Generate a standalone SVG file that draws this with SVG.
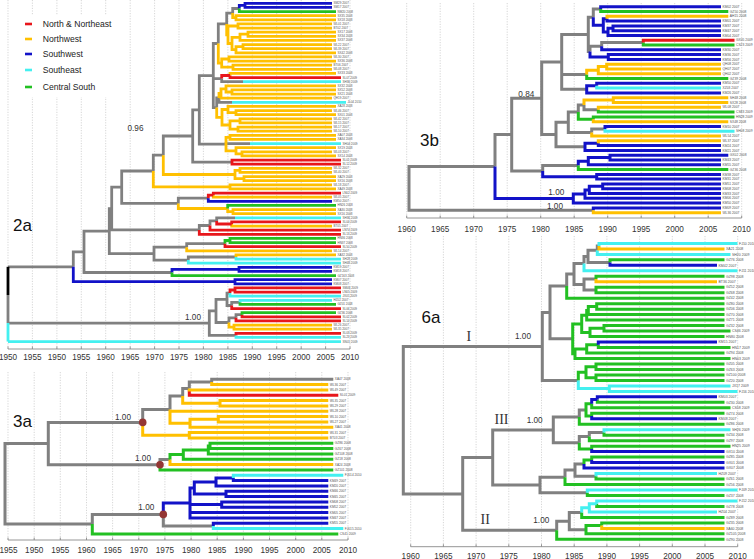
<svg xmlns="http://www.w3.org/2000/svg" width="754" height="559" viewBox="0 0 754 559">
<style>
.e{fill:none;stroke-linejoin:miter;stroke-linecap:butt}
.w2{stroke-width:2.8}.w3{stroke-width:3}
.kg{stroke:#808080}.kr{stroke:#e8161b}.ky{stroke:#ffc000}.kb{stroke:#1212c8}.kc{stroke:#44f0f0}.kn{stroke:#22c022}.kk{stroke:#000}
.grid{fill:none;stroke:#c4c4c4;stroke-width:0.7;stroke-dasharray:1.2 1.4}
.axl{fill:none;stroke:#8a8a8a;stroke-width:0.9}
.ax{font-family:"Liberation Sans",Arial,sans-serif;font-size:8.2px;fill:#333;text-anchor:middle}
.tp{font-family:"Liberation Sans",Arial,sans-serif;fill:#555}
.s2{font-size:3px}.s3{font-size:3.2px}.s4{font-size:3.3px}.s6{font-size:3.5px}
.pl{font-family:"Liberation Sans",Arial,sans-serif;font-size:17px;fill:#111}
.sp{font-family:"Liberation Sans",Arial,sans-serif;font-size:8.2px;fill:#333}
.rom{font-family:"Liberation Serif","Times New Roman",serif;font-size:14px;fill:#333}
.lg{font-family:"Liberation Sans",Arial,sans-serif;font-size:8.6px;fill:#222}
.dot{fill:#943634}
</style>

<g id="panel-2a">
<path class="grid" d="M8,0V349M32.4,0V349M56.9,0V349M81.3,0V349M105.7,0V349M130.2,0V349M154.6,0V349M179,0V349M203.4,0V349M227.9,0V349M252.3,0V349M276.7,0V349M301.2,0V349M325.6,0V349M350,0V349"/>
<g id="legend">
<rect x="20" y="15" width="96" height="82" fill="#fff"/>
<path class="e kr" stroke-width="2.6" d="M25,24H32"/>
<path class="e ky" stroke-width="2.6" d="M25,39H32"/>
<path class="e kb" stroke-width="2.6" d="M25,54H32"/>
<path class="e kc" stroke-width="2.6" d="M25,70H32"/>
<path class="e kn" stroke-width="2.6" d="M25,87H32"/>
<text class="lg" x="42.7" y="27">North &amp; Northeast</text>
<text class="lg" x="42.7" y="42">Northwest</text>
<text class="lg" x="42.7" y="57">Southwest</text>
<text class="lg" x="42.7" y="73">Southeast</text>
<text class="lg" x="42.7" y="90">Central South</text>
</g>
<g id="axis-2a">
<path class="axl" d="M8,349H350M8,346.5V349M32.4,346.5V349M56.9,346.5V349M81.3,346.5V349M105.7,346.5V349M130.2,346.5V349M154.6,346.5V349M179,346.5V349M203.4,346.5V349M227.9,346.5V349M252.3,346.5V349M276.7,346.5V349M301.2,346.5V349M325.6,346.5V349M350,346.5V349"/>
<text class="ax" x="8" y="359.5">1950</text><text class="ax" x="32.4" y="359.5">1955</text><text class="ax" x="56.9" y="359.5">1950</text><text class="ax" x="81.3" y="359.5">1955</text><text class="ax" x="105.7" y="359.5">1960</text><text class="ax" x="130.2" y="359.5">1965</text><text class="ax" x="154.6" y="359.5">1970</text><text class="ax" x="179" y="359.5">1975</text><text class="ax" x="203.4" y="359.5">1980</text><text class="ax" x="227.9" y="359.5">1985</text><text class="ax" x="252.3" y="359.5">1990</text><text class="ax" x="276.7" y="359.5">1995</text><text class="ax" x="301.2" y="359.5">2000</text><text class="ax" x="325.6" y="359.5">2005</text><text class="ax" x="350" y="359.5">2010</text>
</g>
<g id="edges-2a">
<path class="e w2 kg" d="M232.7,13.1V8.5H239.3M226.7,23.9V13.1H232.7M218.3,43.5V23.9H226.7M221.7,78.6V81.7H243M219,97.9V102.3H232M216.7,107.6V97.9H219M213.3,75.6V43.5H218.3M213.3,75.6V78.6H221.7M213.3,75.6V107.6H216.7M226,144.1V143.6H250M199.3,109.8V75.6H213.3M199.3,109.8V144.1H226M192.7,136V109.8H199.3M192.7,136V162.1H232M163.3,155.2V136H192.7M153.3,171V155.2H163.3M178.3,203.4V198.2H208.3M121.7,187.2V171H153.3M121.7,187.2V203.4H178.3M216.7,220.9V217.8H235M210,225.5V220.9H216.7M199.3,229.9V225.5H210M111.7,208.6V187.2H121.7M111.7,208.6V229.9H199.3M186.7,247.2V243.6H225M188.3,260.1V257H236M154,253.6V247.2H186.7M154,253.6V260.1H188.3M109.3,231.1V208.6H111.7M109.3,231.1V253.6H154M84,251.8V231.1H109.3M84,251.8V272.5H172M73.3,266.8V251.8H84M231.7,305.5V302.4H240M227,299.3V293.1H230M227,299.3V305.5H231.7M236,317.8V314.7H242M229,322.5V317.8H236M216,310.9V299.3H227M216,310.9V322.5H229M209.3,323.1V310.9H216M209.3,323.1V335.4H236M8,295V323.1M8,266.8H73.3M8,323.1H209.3"/>
<path class="e w2 ky" d="M236,17.7V15.7H336M236,17.7V19.8H336M232.7,13.1V17.7H236M238,26V23.9H332M238,26V28.1H332M248,34.2V32.2H336M248,34.2V36.3H336M240,37.3V34.2H248M240,37.3V40.4H336M243,46.6V44.6H332M243,46.6V48.7H332M236,49.7V46.6H243M236,49.7V52.8H336M232,43.5V37.3H240M232,43.5V49.7H236M228,34.8V26H238M228,34.8V43.5H232M226.7,23.9V34.8H228M229,59V56.9H332M229,59V61.1H336M233,67.2V65.2H332M233,67.2V69.3H332M221.7,63.1V59H229M221.7,63.1V67.2H233M218.3,43.5V63.1H221.7M230,75.5V73.4H336M232,92V89.9H336M232,92V94.1H336M226,88.9V85.8H336M226,88.9V92H232M221,93.5V88.9H226M221,93.5V98.2H332M219,97.9V93.5H221M236,112.6V110.6H332M236,112.6V114.7H336M228,109.5V106.4H336M228,109.5V112.6H236M240,120.9V118.8H332M240,120.9V122.9H332M238,129.1V127.1H332M238,129.1V131.2H332M230,125V120.9H240M230,125V129.1H238M222,117.3V109.5H228M222,117.3V125H230M216.7,107.6V117.3H222M230,137.4V135.3H336M230,137.4V139.4H336M242,153.9V151.8H332M242,153.9V155.9H336M236,150.8V147.7H336M236,150.8V153.9H242M226,144.1V137.4H230M226,144.1V150.8H236M240,170.4V168.3H332M240,170.4V172.4H332M244,178.6V176.6H336M244,178.6V180.7H336M235,174.5V170.4H240M235,174.5V178.6H244M163.3,155.2V174.5H235M230,186.9V184.8H332M230,186.9V188.9H336M153.3,171V186.9H230M213.3,195.1V197.2H332M233,211.6V209.6H336M233,211.6V213.7H336M227.7,208.5V211.6H233M178.3,203.4V208.5H227.7M231.7,224V226.1H332M186.7,247.2V250.8H332M236,257V254.9H336M234,327.1V325.1H332M234,327.1V329.2H332M229,322.5V327.1H234"/>
<path class="e w2 kr" d="M230,75.5V77.6H341M221.7,78.6V75.5H230M232,162.1V160.1H341M232,162.1V164.2H341M213.3,195.1V193.1H341M208.3,198.2V195.1H213.3M231.7,224V221.9H341M216.7,220.9V224H231.7M210,225.5V230.2H341M199.3,229.9V234.3H341M225,243.6V246.7H341M235,290V287.9H341M235,290V292.1H341M230,293.1V290H235M231.7,305.5V308.6H341M242,314.7V316.8H341M236,317.8V320.9H341M236,335.4V333.3H341"/>
<path class="e w2 kb" d="M245,5.4V3.3H332M245,5.4V7.4H332M239.3,8.5V5.4H245M208.3,198.2V201.3H332M239,269.4V267.3H332M239,269.4V271.4H332M172,272.5V269.4H239M235,281.7V279.7H332M235,281.7V283.8H332M73.3,266.8V281.7H235"/>
<path class="e w2 kc" d="M243,81.7H341M232,102.3H346M250,143.6H341M235,217.8H341M236,257V259.1H341M188.3,260.1V263.2H341M230,293.1V296.2H341M240,302.4V300.3H332M236,335.4V337.4H341M8,323.1V341.6M8,341.6H341"/>
<path class="e w2 kn" d="M239.3,8.5V11.6H336M227.7,208.5V205.4H336M230,240.5V238.4H336M230,240.5V242.6H336M225,243.6V240.5H230M172,272.5V275.6H336M240,302.4V304.4H336M242,314.7V312.7H336"/>
<path class="e w2 kk" d="M8,266.8V295"/>
</g>
<g id="tips-2a" class="tp s2">
<text x="333.5" y="4.3">SM29 2007</text><text x="333.5" y="8.4">SM17 2007</text><text x="337.5" y="12.6">NM20 2008</text><text x="337.5" y="16.7">SX35 2008</text><text x="337.5" y="20.8">SX18 2008</text><text x="333.5" y="24.9">WL01 2007</text><text x="333.5" y="29.1">BT02 2007</text><text x="337.5" y="33.2">SX17 2008</text><text x="337.5" y="37.3">SX34 2008</text><text x="337.5" y="41.4">SX37 2008</text><text x="333.5" y="45.6">WL22 2007</text><text x="333.5" y="49.7">WL39 2007</text><text x="337.5" y="53.8">SX42 2008</text><text x="333.5" y="57.9">WL30 2007</text><text x="337.5" y="62.1">SX36 2008</text><text x="333.5" y="66.2">BT06 2007</text><text x="333.5" y="70.3">WL08 2007</text><text x="337.5" y="74.4">SX33 2008</text><text x="342.5" y="78.6">SL07 2009</text><text x="342.5" y="82.7">SH36 2009</text><text x="337.5" y="86.8">SX32 2008</text><text x="337.5" y="90.9">SX52 2008</text><text x="337.5" y="95.1">SX21 2008</text><text x="333.5" y="99.2">QH19 2007</text><text x="347.5" y="103.3">JL04 2010</text><text x="337.5" y="107.4">XA28 2008</text><text x="333.5" y="111.6">WL46 2007</text><text x="337.5" y="115.7">SX01 2008</text><text x="333.5" y="119.8">WL42 2007</text><text x="333.5" y="123.9">WL15 2007</text><text x="333.5" y="128.1">WL17 2007</text><text x="333.5" y="132.2">WL10 2007</text><text x="337.5" y="136.3">XA07 2008</text><text x="337.5" y="140.4">XA34 2008</text><text x="342.5" y="144.6">SH04 2009</text><text x="337.5" y="148.7">SX19 2008</text><text x="333.5" y="152.8">WL03 2007</text><text x="337.5" y="156.9">SX14 2008</text><text x="342.5" y="161.1">SL01 2009</text><text x="342.5" y="165.2">SL12 2009</text><text x="333.5" y="169.3">WL32 2007</text><text x="333.5" y="173.4">WL40 2007</text><text x="337.5" y="177.6">XA29 2008</text><text x="337.5" y="181.7">SX16 2008</text><text x="333.5" y="185.8">WL18 2007</text><text x="337.5" y="189.9">XA49 2008</text><text x="342.5" y="194.1">LN02 2009</text><text x="333.5" y="198.2">WL05 2007</text><text x="333.5" y="202.3">KM50 2007</text><text x="337.5" y="206.4">HN26 2008</text><text x="337.5" y="210.6">XA30 2008</text><text x="337.5" y="214.7">SX16 2008</text><text x="342.5" y="218.8">SH36 2009</text><text x="342.5" y="222.9">SL04 2009</text><text x="333.5" y="227.1">BT05 2007</text><text x="342.5" y="231.2">LN74 2009</text><text x="342.5" y="235.3">SL13 2009</text><text x="337.5" y="239.4">HN36 2008</text><text x="337.5" y="243.6">HN37 2008</text><text x="342.5" y="247.7">SL50 2009</text><text x="333.5" y="251.8">WL14 2007</text><text x="337.5" y="255.9">XA32 2008</text><text x="342.5" y="260.1">SH28 2009</text><text x="342.5" y="264.2">SH48 2009</text><text x="333.5" y="268.3">KM19 2007</text><text x="333.5" y="272.4">KM18 2007</text><text x="337.5" y="276.6">GZ163 2008</text><text x="333.5" y="280.7">KM07 2007</text><text x="333.5" y="284.8">KM08 2007</text><text x="342.5" y="288.9">SM46 2009</text><text x="342.5" y="293.1">LN05 2009</text><text x="342.5" y="297.2">JX05 2009</text><text x="333.5" y="301.3">HZ02 2007</text><text x="337.5" y="305.4">GZ01 2008</text><text x="342.5" y="309.6">SL06 2009</text><text x="337.5" y="313.7">GZ36 2008</text><text x="342.5" y="317.8">SL02 2009</text><text x="342.5" y="321.9">SL14 2009</text><text x="333.5" y="326.1">WL26 2007</text><text x="333.5" y="330.2">WL35 2007</text><text x="342.5" y="334.3">SL03 2009</text><text x="342.5" y="338.4">SL23 2009</text><text x="342.5" y="342.6">SN01 2009</text>
</g>
<g id="labels-2a">
<text class="pl" x="13" y="230.5">2a</text>
<text class="sp" x="127.5" y="130.5">0.96</text>
<text class="sp" x="185" y="319.5">1.00</text>
</g>
</g>

<g id="panel-3b">
<path class="grid" d="M406.7,3V218M440.2,3V218M473.7,3V218M507.2,3V218M540.7,3V218M574.2,3V218M607.7,3V218M641.2,3V218M674.7,3V218M708.2,3V218M741.7,3V218"/>
<g id="axis-3b">
<path class="axl" d="M406.7,218H741.7M406.7,215.5V218M440.2,215.5V218M473.7,215.5V218M507.2,215.5V218M540.7,215.5V218M574.2,215.5V218M607.7,215.5V218M641.2,215.5V218M674.7,215.5V218M708.2,215.5V218M741.7,215.5V218"/>
<text class="ax" x="406.7" y="231.5">1960</text><text class="ax" x="440.2" y="231.5">1965</text><text class="ax" x="473.7" y="231.5">1970</text><text class="ax" x="507.2" y="231.5">1975</text><text class="ax" x="540.7" y="231.5">1980</text><text class="ax" x="574.2" y="231.5">1985</text><text class="ax" x="607.7" y="231.5">1990</text><text class="ax" x="641.2" y="231.5">1995</text><text class="ax" x="674.7" y="231.5">2000</text><text class="ax" x="708.2" y="231.5">2005</text><text class="ax" x="741.7" y="231.5">2010</text>
</g>
<g id="edges-3b">
<path class="e w3 kg" d="M593.3,17.2V9.1H600.7M601.7,46.2V42.6H643.3M590,51.6V46.2H601.7M588.3,34.4V17.2H593.3M588.3,34.4V51.6H590M561.7,61.9V34.4H588.3M561.7,61.9V74.4H586.7M561.7,61.9V89.3H586.7M584,104.9V109.7H598.3M578.3,112.1V104.9H584M591.7,132.4V128.9H605M568.3,122.3V112.1H578.3M568.3,122.3V132.4H591.7M556,134.5V122.3H568.3M556,134.5V146.8H585M541.7,98.2V61.9H561.7M541.7,98.2V134.5H556M542.7,171.1V165.4H578.3M511.7,134.6V98.2H541.7M511.7,134.6V171.1H542.7M495,166.6V134.6H511.7M409,188.5V166.6H495M409,188.5V210.3H593.3"/>
<path class="e w3 kb" d="M600.7,9.1V6.7H721M607,18.7V21.1H721M613,28.3V25.9H721M613,28.3V30.7H721M608,31.9V28.3H613M608,31.9V35.4H721M603.3,25.3V18.7H607M603.3,25.3V31.9H608M593.3,17.2V25.3H603.3M601.7,46.2V49.8H721M608.3,57V54.6H721M608.3,57V59.4H721M590,51.6V57H608.3M596.7,85.7V83.3H721M586.7,89.3V85.7H596.7M586.7,89.3V92.9H721M605,128.9V126.5H721M598.3,143.2V145.6H721M585,146.8V143.2H598.3M585,146.8V150.4H721M610,157.6V155.2H728.3M610,157.6V160H721M588.3,161.2V157.6H610M588.3,161.2V164.8H721M578.3,165.4V161.2H588.3M596.7,176.8V174.4H721M596.7,176.8V179.1H721M542.7,171.1V176.8H596.7M602.7,186.3V183.9H721M602.7,186.3V188.7H721M589.3,189.9V186.3H602.7M589.3,189.9V193.5H721M585,194.1V189.9H589.3M585,194.1V198.3H721M573.3,198.6V194.1H585M573.3,198.6V203.1H721M495,166.6V198.6H573.3M593.3,210.3V207.9H721"/>
<path class="e w3 kn" d="M600.7,9.1V11.5H728.3M643.3,42.6V45H734.5M586.7,74.4V78.6H728.3M598.3,109.7V112.1H734.5M593.3,119.3V116.9H734.5M578.3,112.1V119.3H593.3M578.3,165.4V169.6H728.3"/>
<path class="e w3 ky" d="M607,18.7V16.3H728.3M606.7,66.6V64.2H721M606.7,66.6V69H721M598.3,70.2V66.6H606.7M598.3,70.2V73.8H721M586.7,74.4V70.2H598.3M613.3,100.1V97.7H728.3M613.3,100.1V102.5H728.3M584,104.9V100.1H613.3M598.3,109.7V107.3H721M593.3,119.3V121.7H728.3M591.7,132.4V136H721M598.3,143.2V140.8H721M593.3,210.3V212.7H721"/>
<path class="e w3 kr" d="M643.3,42.6V40.2H734.5"/>
<path class="e w3 kc" d="M596.7,85.7V88.1H721M605,128.9V131.2H734.5"/>
</g>
<g id="tips-3b" class="tp s4">
<text x="722.5" y="7.8">KM02 2007</text><text x="729.8" y="12.6">GZ50 2008</text><text x="729.8" y="17.4">AH15 2008</text><text x="722.5" y="22.2">KM01 2007</text><text x="722.5" y="27">KM37 2007</text><text x="722.5" y="31.8">KM47 2007</text><text x="722.5" y="36.5">KM04 2007</text><text x="736" y="41.3">GX05 2009</text><text x="736" y="46.1">CS23 2009</text><text x="722.5" y="50.9">KM30 2007</text><text x="722.5" y="55.7">KM36 2007</text><text x="722.5" y="60.5">KM56 2007</text><text x="722.5" y="65.3">QH08 2007</text><text x="722.5" y="70.1">QH07 2007</text><text x="722.5" y="74.9">QH02 2007</text><text x="729.8" y="79.7">GZ39 2008</text><text x="722.5" y="84.4">KM50 2007</text><text x="722.5" y="89.2">XZ03 2007</text><text x="722.5" y="94">KM26 2007</text><text x="729.8" y="98.8">SH48 2008</text><text x="729.8" y="103.6">SX28 2008</text><text x="722.5" y="108.4">WL08 2007</text><text x="736" y="113.2">CS83 2009</text><text x="736" y="118">HN28 2009</text><text x="729.8" y="122.8">SX48 2008</text><text x="722.5" y="127.6">KM10 2007</text><text x="736" y="132.3">SH08 2009</text><text x="722.5" y="137.1">WL54 2007</text><text x="722.5" y="141.9">WL37 2007</text><text x="722.5" y="146.7">KM24 2007</text><text x="722.5" y="151.5">KM21 2007</text><text x="729.8" y="156.3">GX02 2008</text><text x="722.5" y="161.1">KM43 2007</text><text x="722.5" y="165.9">KM55 2007</text><text x="729.8" y="170.7">GZ36 2008</text><text x="722.5" y="175.5">KM38 2007</text><text x="722.5" y="180.2">KM31 2007</text><text x="722.5" y="185">KM51 2007</text><text x="722.5" y="189.8">KM08 2007</text><text x="722.5" y="194.6">KM33 2007</text><text x="722.5" y="199.4">KM06 2007</text><text x="722.5" y="204.2">KM50 2007</text><text x="722.5" y="209">KM09 2007</text><text x="722.5" y="213.8">WL36 2007</text>
</g>
<g id="labels-3b">
<text class="pl" x="420" y="145.5">3b</text>
<text class="sp" x="518.3" y="96.7">0.84</text>
<text class="sp" x="548.3" y="195">1.00</text>
<text class="sp" x="547" y="209.3">1.00</text>
</g>
</g>

<g id="panel-6a">
<path class="grid" d="M410.7,236V546.7M443.4,236V546.7M476.1,236V546.7M508.8,236V546.7M541.5,236V546.7M574.2,236V546.7M606.9,236V546.7M639.6,236V546.7M672.3,236V546.7M705,236V546.7M737.7,236V546.7"/>
<g id="axis-6a">
<path class="axl" d="M410.7,546.7H737.7M410.7,544.2V546.7M443.4,544.2V546.7M476.1,544.2V546.7M508.8,544.2V546.7M541.5,544.2V546.7M574.2,544.2V546.7M606.9,544.2V546.7M639.6,544.2V546.7M672.3,544.2V546.7M705,544.2V546.7M737.7,544.2V546.7"/>
<text class="ax" x="410.7" y="558.5">1960</text><text class="ax" x="443.4" y="558.5">1965</text><text class="ax" x="476.1" y="558.5">1970</text><text class="ax" x="508.8" y="558.5">1975</text><text class="ax" x="541.5" y="558.5">1980</text><text class="ax" x="574.2" y="558.5">1985</text><text class="ax" x="606.9" y="558.5">1990</text><text class="ax" x="639.6" y="558.5">1995</text><text class="ax" x="672.3" y="558.5">2000</text><text class="ax" x="705" y="558.5">2005</text><text class="ax" x="737.7" y="558.5">2010</text>
</g>
<g id="edges-6a">
<path class="e w3 kg" d="M597.3,250.3V246.1H599M588,256.4V250.3H597.3M588,256.4V262.6H610M584,263.6V256.4H588M584,284.5V279H596M584,284.5V290H596M574,274.1V263.6H584M574,274.1V284.5H584M566.7,286.1V274.1H574M550,312.5V286.1H566.7M550,312.5V338.8H572.7M542.3,346.4V312.5H550M542.3,346.4V380.4H578.3M579.3,417.1V409.9H586M589.3,436.6V432.5H604M579.3,442.7V436.6H589.3M553.3,429.9V417.1H579.3M553.3,429.9V442.7H579.3M575,470.1V464H584M575,470.1V476.3H596M565,477.3V470.1H575M540,485V477.3H565M540,485V492.7H587.3M492.7,457.5V429.9H553.3M492.7,457.5V485H540M569.3,521.2V512.6H581.7M569.3,521.2V529.7H586M556.7,530.3V521.2H569.3M462.7,493.9V457.5H492.7M462.7,493.9V530.3H556.7M403.3,420.2V346.4H542.3M403.3,420.2V493.9H462.7"/>
<path class="e w3 kn" d="M610,262.6V259.8H724.5M596,279V276.3H724.5M596,290V287.2H724.5M596,290V292.7H724.5M566.7,286.1V298.2H724.5M596.7,306.4V303.7H724.5M596.7,306.4V309.2H724.5M588.3,310.5V306.4H596.7M588.3,310.5V314.6H724.5M586.7,315.3V310.5H588.3M586.7,315.3V320.1H724.5M604,328.3V325.6H724.5M604,328.3V331.1H730.5M590,332.5V328.3H604M590,332.5V336.6H724.5M581.7,323.9V315.3H586.7M581.7,323.9V332.5H590M598.3,344.8V347.5H730.5M586.7,348.9V344.8H598.3M586.7,348.9V353H724.5M575,353.7V348.9H586.7M575,353.7V358.5H730.5M572.7,338.8V323.9H581.7M572.7,338.8V353.7H575M596,366.7V364H724.5M596,366.7V369.4H724.5M596,377.7V374.9H724.5M596,377.7V380.4H724.5M586,372.2V366.7H596M586,372.2V377.7H596M578.3,380.4V372.2H586M597.3,399.6V402.3H724.5M591.7,403.7V407.8H730.5M591.7,416V413.3H724.5M586,409.9V403.7H591.7M586,409.9V416H591.7M579.3,417.1V424.2H724.5M604,432.5V435.2H724.5M589.3,436.6V440.7H724.5M591.7,448.9V446.2H730.5M579.3,442.7V448.9H591.7M591.7,459.9V457.1H724.5M584,464V459.9H591.7M596,476.3V479H724.5M565,477.3V484.5H724.5M587.3,492.7V495.5H724.5M596.7,503.7V506.4H724.5M581.7,512.6V517.4H724.5M601.7,525.6V522.9H724.5M586,529.7V525.6H601.7M586,529.7V533.8H724.5M556.7,530.3V539.3H724.5"/>
<path class="e w3 kc" d="M599,246.1V243.4H737.5M597.3,250.3V254.4H730.5M584,263.6V270.8H737.5M609.3,388.6V385.9H730.5M609.3,388.6V391.4H737.5M578.3,380.4V388.6H609.3M604,432.5V429.7H730.5M596,476.3V473.6H717M587.3,492.7V490H737.5M596.7,503.7V501H737.5M589.3,507.8V503.7H596.7M589.3,507.8V511.9H717M581.7,512.6V507.8H589.3"/>
<path class="e w3 ky" d="M599,246.1V248.9H724.5M596,279V281.8H717M601.7,525.6V528.4H724.5"/>
<path class="e w3 kb" d="M610,262.6V265.3H717M598.3,344.8V342H717M597.3,399.6V396.8H717M591.7,403.7V399.6H597.3M591.7,416V418.8H717M591.7,448.9V451.6H724.5M591.7,459.9V462.6H724.5M584,464V468.1H724.5"/>
</g>
<g id="tips-6a" class="tp s6">
<text x="739" y="244.6">FJ10 2010</text><text x="726" y="250.1">XA21 2008</text><text x="732" y="255.6">SH20 2009</text><text x="726" y="261">GZ76 2008</text><text x="718.5" y="266.5">KM42 2007</text><text x="739" y="272">FJ11 2010</text><text x="726" y="277.5">GZ98 2008</text><text x="718.5" y="283">BT36 2007</text><text x="726" y="288.4">GZ52 2008</text><text x="726" y="293.9">GZ68 2008</text><text x="726" y="299.4">GZ42 2008</text><text x="726" y="304.9">GZ80 2008</text><text x="726" y="310.4">GZ06 2008</text><text x="726" y="315.8">GZ70 2008</text><text x="726" y="321.3">GZ71 2008</text><text x="726" y="326.8">GZ32 2008</text><text x="732" y="332.3">CS46 2009</text><text x="726" y="337.8">HN80 2008</text><text x="718.5" y="343.2">KM15 2007</text><text x="732" y="348.7">HN17 2009</text><text x="726" y="354.2">GZ94 2008</text><text x="732" y="359.7">HN03 2009</text><text x="726" y="365.2">GZ05 2008</text><text x="726" y="370.6">GZ63 2008</text><text x="726" y="376.1">GZ100 2008</text><text x="726" y="381.6">GZ20 2008</text><text x="732" y="387.1">JX17 2009</text><text x="739" y="392.6">FJ16 2010</text><text x="718.5" y="398">KM03 2007</text><text x="726" y="403.5">GZ30 2008</text><text x="732" y="409">CS58 2009</text><text x="726" y="414.5">GZ74 2008</text><text x="718.5" y="420">KM48 2007</text><text x="726" y="425.4">GZ86 2008</text><text x="732" y="430.9">SH26 2009</text><text x="726" y="436.4">GZ34 2008</text><text x="726" y="441.9">GZ97 2008</text><text x="732" y="447.4">HN25 2009</text><text x="726" y="452.8">GX10 2008</text><text x="726" y="458.3">GZ85 2008</text><text x="726" y="463.8">GX01 2008</text><text x="726" y="469.3">GX07 2008</text><text x="718.5" y="474.8">HZ09 2007</text><text x="726" y="480.2">GZ61 2008</text><text x="726" y="485.7">GZ56 2008</text><text x="739" y="491.2">FJ09 2010</text><text x="726" y="496.7">GZ37 2008</text><text x="739" y="502.2">FJ12 2010</text><text x="726" y="507.6">GZ78 2008</text><text x="718.5" y="513.1">HZ04 2007</text><text x="726" y="518.6">GZ89 2008</text><text x="726" y="524.1">GZ35 2008</text><text x="726" y="529.6">XA60 2008</text><text x="726" y="535">GZ105 2008</text><text x="726" y="540.5">GZ90 2008</text>
</g>
<g id="labels-6a">
<text class="pl" x="421.5" y="322.5">6a</text>
<text class="rom" x="466.5" y="340.5">I</text>
<text class="rom" x="494.5" y="424">III</text>
<text class="rom" x="480.5" y="524">II</text>
<text class="sp" x="515" y="338.7">1.00</text>
<text class="sp" x="526.7" y="423.3">1.00</text>
<text class="sp" x="533.3" y="523.3">1.00</text>
</g>
</g>

<g id="panel-3a">
<path class="grid" d="M8,372V540M34.2,372V540M60.3,372V540M86.5,372V540M112.6,372V540M138.8,372V540M164.9,372V540M191.1,372V540M217.2,372V540M243.4,372V540M269.5,372V540M295.7,372V540M321.8,372V540M348,372V540"/>
<g id="axis-3a">
<path class="axl" d="M8,540H348M8,537.5V540M34.2,537.5V540M60.3,537.5V540M86.5,537.5V540M112.6,537.5V540M138.8,537.5V540M164.9,537.5V540M191.1,537.5V540M217.2,537.5V540M243.4,537.5V540M269.5,537.5V540M295.7,537.5V540M321.8,537.5V540M348,537.5V540"/>
<text class="ax" x="8.5" y="553">1955</text><text class="ax" x="34.2" y="553">1950</text><text class="ax" x="60.3" y="553">1955</text><text class="ax" x="86.5" y="553">1960</text><text class="ax" x="112.6" y="553">1965</text><text class="ax" x="138.8" y="553">1970</text><text class="ax" x="164.9" y="553">1975</text><text class="ax" x="191.1" y="553">1980</text><text class="ax" x="217.2" y="553">1985</text><text class="ax" x="243.4" y="553">1990</text><text class="ax" x="269.5" y="553">1995</text><text class="ax" x="295.7" y="553">2000</text><text class="ax" x="321.8" y="553">2005</text><text class="ax" x="348" y="553">2010</text>
</g>
<g id="edges-3a">
<path class="e w3 kg" d="M211.7,382V379.3H333.3M189.3,388.6V382H211.7M182.7,396V388.6H189.3M170,409.6V396H182.7M142.7,422.4V409.6H170M160,464.8V459.6H170M48.3,443.6V422.4H142.7M48.3,443.6V464.8H160M163.3,514.4V525.9H213.3M92.3,524.1V514.4H163.3M5,483.9V443.6H48.3M5,483.9V524.1H92.3"/>
<path class="e w3 kr" d="M189.3,390V395.3H338.3"/>
<path class="e w3 ky" d="M211.7,382V384.6H328.3M189.3,388.6V390H328.3M220,403.3V400.6H328.3M220,403.3V406H328.3M182.7,396V403.3H220M218.3,419.3V416.6H328.3M218.3,419.3V421.9H328.3M190,423.3V419.3H218.3M190,423.3V427.3H333.3M170,409.6V411.3H328.3M170,409.6V423.3H190M189.3,435.3V432.6H328.3M189.3,435.3V437.9H328.3M142.7,422.4V435.3H189.3M170,459.6V464.6H333.3"/>
<path class="e w3 kn" d="M210,445.9V443.3H333.3M210,445.9V448.6H333.3M208.3,449.9V445.9H210M208.3,449.9V453.9H333.3M183.3,454.6V449.9H208.3M183.3,454.6V459.3H333.3M170,459.6V454.6H183.3M160,464.8V469.9H333.3M92.3,524.1V533.9H338.3"/>
<path class="e w3 kb" d="M233.3,477.9V480.6H328.3M216,481.9V477.9H233.3M216,481.9V485.9H328.3M226,493.9V491.2H328.3M226,493.9V496.6H328.3M194.3,487.9V481.9H216M194.3,487.9V493.9H226M221.7,504.6V501.9H328.3M221.7,504.6V507.2H328.3M190,502.9V487.9H194.3M190,502.9V504.6H221.7M190,502.9V512.6H328.3M190,502.9V517.9H328.3M213.3,525.9V523.2H328.3M163.3,514.4V502.9H190"/>
<path class="e w3 kc" d="M233.3,477.9V475.2H343.3M213.3,525.9V528.5H343.3"/>
</g>
<g id="nodes-3a">
<circle class="dot" cx="142.7" cy="422.4" r="3.8"/>
<circle class="dot" cx="160" cy="464.8" r="3.8"/>
<circle class="dot" cx="163.3" cy="514.4" r="3.8"/>
</g>
<g id="tips-3a" class="tp s3">
<text x="334.8" y="380.4">XA47 2008</text><text x="329.8" y="385.7">WL36 2007</text><text x="329.8" y="391.1">WL49 2007</text><text x="339.8" y="396.4">SL01 2009</text><text x="329.8" y="401.7">WL35 2007</text><text x="329.8" y="407.1">WL29 2007</text><text x="329.8" y="412.4">WL28 2007</text><text x="329.8" y="417.7">WL10 2007</text><text x="329.8" y="423">WL27 2007</text><text x="334.8" y="428.4">XA41 2008</text><text x="329.8" y="433.7">WL31 2007</text><text x="329.8" y="439">BT03 2007</text><text x="334.8" y="444.4">GZ86 2008</text><text x="334.8" y="449.7">GZ67 2008</text><text x="334.8" y="455">GZ108 2008</text><text x="334.8" y="460.4">GZ18 2008</text><text x="334.8" y="465.7">XA24 2008</text><text x="334.8" y="471">GZ101 2008</text><text x="344.8" y="476.3">FJ014 2010</text><text x="329.8" y="481.7">KM49 2007</text><text x="329.8" y="487">KM20 2007</text><text x="329.8" y="492.3">KM46 2007</text><text x="329.8" y="497.7">KM45 2007</text><text x="329.8" y="503">KM08 2007</text><text x="329.8" y="508.3">KM52 2007</text><text x="329.8" y="513.7">KM05 2007</text><text x="329.8" y="519">KM47 2007</text><text x="329.8" y="524.3">KM55 2007</text><text x="344.8" y="529.6">FJ015 2010</text><text x="339.8" y="535">CS41 2009</text>
</g>
<g id="labels-3a">
<text class="pl" x="13" y="426.5">3a</text>
<text class="sp" x="115" y="420">1.00</text>
<text class="sp" x="135" y="461">1.00</text>
<text class="sp" x="138.3" y="510">1.00</text>
</g>
</g>
</svg>
